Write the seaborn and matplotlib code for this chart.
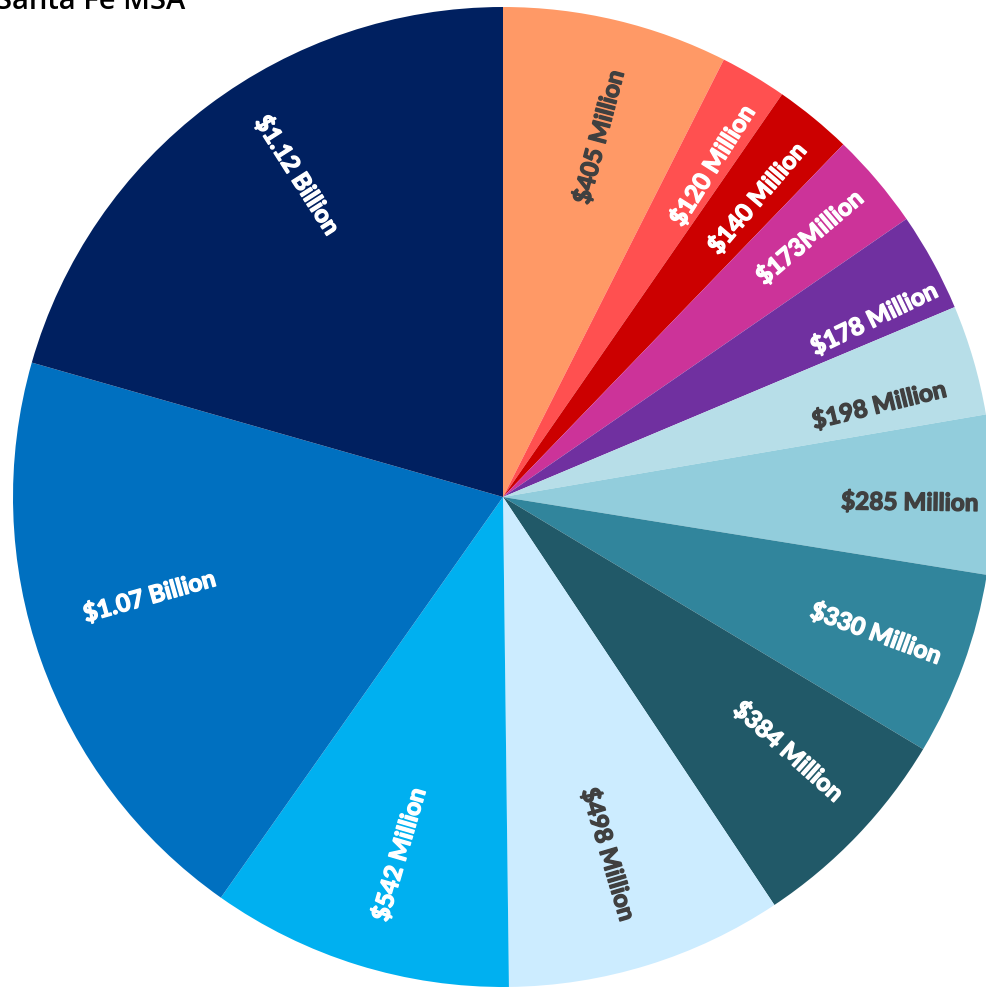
import matplotlib
matplotlib.use("Agg")
import matplotlib.pyplot as plt
import matplotlib.patheffects as pe
import numpy as np
import seaborn as sns

sns.set_theme(style="white")
plt.rcParams['font.family'] = ['Lato', 'DejaVu Sans']

# Slices clockwise from 12 o'clock (values in millions of dollars)
labels = ["$405 Million", "$120 Million", "$140 Million", "$173Million",
          "$178 Million", "$198 Million", "$285 Million", "$330 Million",
          "$384 Million", "$498 Million", "$542 Million", "$1.07 Billion",
          "$1.12 Billion"]
values = [405, 120, 140, 173, 178, 198, 285, 330, 384, 498, 542, 1070, 1120]
colors = ["#FF9966", "#FF5050", "#CC0000", "#CC3399", "#7030A0", "#B7DEE8",
          "#92CDDC", "#31859C", "#215968", "#CCECFF", "#00B0F0", "#0070C0",
          "#002060"]
text_colors = ["#404040", "white", "white", "white", "white", "#404040",
               "#404040", "white", "white", "#404040", "white", "white",
               "white"]

# label placement: distance from centre (fraction of radius) and angular nudge (deg)
label_dist = [0.76, 0.80, 0.80, 0.82, 0.84, 0.79, 0.83, 0.81, 0.78, 0.76,
              0.76, 0.75, 0.78]
label_nudge = [-1.5, -1.5, -1, 0, -3, -2.5, -1, 0, 2, -0.7, 1, -3.8, -4.5]

W, H, DPI = 986, 988, 100
fig = plt.figure(figsize=(W / DPI, H / DPI), dpi=DPI)
ax = fig.add_axes([0, 0, 1, 1])

palette = sns.color_palette(colors)
wedges, texts = ax.pie(values, labels=labels, colors=palette, startangle=90,
                       counterclock=False, labeldistance=0.79,
                       rotatelabels=True, radius=1.0,
                       wedgeprops=dict(linewidth=0),
                       textprops=dict(fontsize=17.5, fontweight='bold'))

# centre each label near its wedge's bisector, reading radially
for w, t, c, d, n in zip(wedges, texts, text_colors, label_dist, label_nudge):
    ang = (w.theta1 + w.theta2) / 2 + n
    mid = np.deg2rad(ang)
    t.set_position((d * np.cos(mid), d * np.sin(mid)))
    rot = ang % 360
    t.set_rotation(rot - 180 if 90 < rot < 270 else rot)
    t.set_ha('center')
    t.set_va('center')
    t.set_color(c)
    t.set_path_effects([pe.withStroke(linewidth=1.0, foreground=c)])

# pie centre sits at (503, 491) px from the lower-left, radius 490 px
R = 490.0
cx, cy = 503.0, 491.0
ax.set_xlim(-cx / R, (W - cx) / R)
ax.set_ylim(-cy / R, (H - cy) / R)
ax.set_aspect('auto')
ax.axis('off')

fig.text(-0.004, 1 - 9 / H, "Santa Fe MSA", fontsize=21, fontweight='semibold',
         family=['Open Sans', 'DejaVu Sans'], color='black', va='baseline',
         ha='left')

fig.savefig("out.png", dpi=DPI, facecolor='white')
